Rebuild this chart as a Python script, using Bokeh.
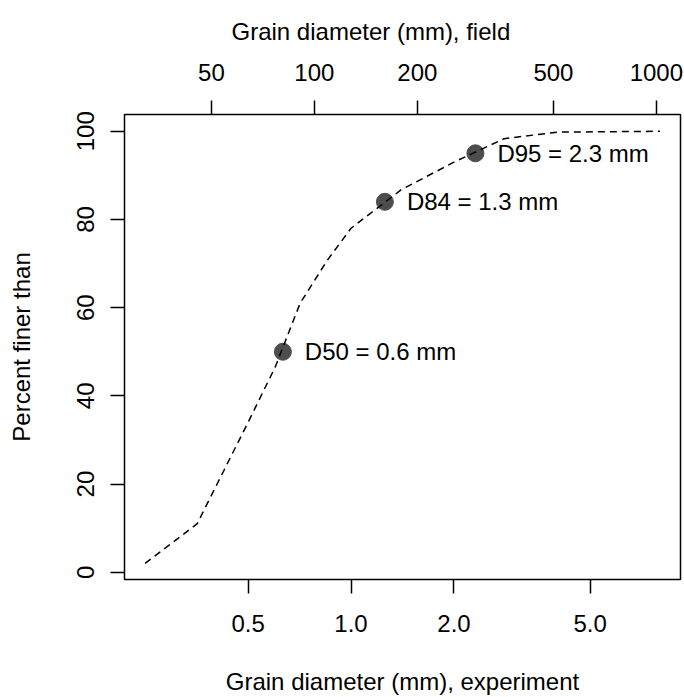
from bokeh.plotting import figure
from bokeh.models import Range1d, LogScale, LogAxis, FixedTicker, PrintfTickFormatter
from bokeh.embed import file_html
from bokeh.resources import INLINE

# ---- data ----
size_mm = [0.25, 0.355, 0.5, 0.6, 0.71, 0.85, 1.0, 1.4, 2.0, 2.8, 4.0, 8.0]
pct_finer = [2, 11, 34, 46.5, 61, 70.6, 78, 86.7, 93, 98.3, 99.8, 100]

d_names = ["D50", "D84", "D95"]
d_values = [0.632, 1.256, 2.31]
d_pct = [50, 84, 95]
d_labels = [f"{n} = {v:.1f} mm" for n, v in zip(d_names, d_values)]

field_factor = 128  # field diameter = experiment diameter * factor
bottom_ticks = [0.5, 1, 2, 5]
top_ticks = [50, 100, 200, 500, 1000]
y_ticks = [0, 20, 40, 60, 80, 100]

x_lo, x_hi = 0.2176, 9.19
y_lo, y_hi = -1.65, 103.8

FONT = "Liberation Sans"
FS = "24px"

p = figure(width=684, height=697, x_axis_type="log",
           x_range=Range1d(x_lo, x_hi), y_range=Range1d(y_lo, y_hi),
           output_backend="svg", toolbar_location=None,
           min_border_left=124, min_border_right=4,
           min_border_top=114, min_border_bottom=117)
p.grid.visible = False
p.outline_line_color = "black"
p.outline_line_width = 1.5
p.background_fill_color = "white"
p.border_fill_color = "white"


def style_axis(ax, standoff):
    ax.axis_line_color = None
    ax.major_tick_in = 0
    ax.major_tick_out = 14
    ax.major_tick_line_color = "black"
    ax.major_tick_line_width = 1.5
    ax.minor_tick_line_color = None
    ax.major_label_text_font = FONT
    ax.major_label_text_font_size = FS
    ax.major_label_text_color = "black"
    ax.major_label_standoff = standoff
    ax.axis_label_text_font = FONT
    ax.axis_label_text_font_size = FS
    ax.axis_label_text_font_style = "normal"
    ax.axis_label_text_color = "black"


xb = p.below[0]
style_axis(xb, 21)
xb.ticker = FixedTicker(ticks=bottom_ticks)
xb.formatter = PrintfTickFormatter(format="%.1f")
xb.axis_label = "Grain diameter (mm), experiment"
xb.axis_label_standoff = 33

yl = p.left[0]
style_axis(yl, 16)
yl.ticker = FixedTicker(ticks=y_ticks)
yl.major_label_orientation = "vertical"
yl.axis_label = "Percent finer than"
yl.axis_label_standoff = 40

p.extra_x_ranges = {"field": Range1d(x_lo * field_factor, x_hi * field_factor)}
p.extra_x_scales = {"field": LogScale()}
top = LogAxis(x_range_name="field")
style_axis(top, 20)
top.ticker = FixedTicker(ticks=top_ticks)
top.formatter = PrintfTickFormatter(format="%d")
p.add_layout(top, "above")

p.title.text = "Grain diameter (mm), field"
p.title.align = "left"
p.title.offset = 107
p.title.standoff = 31
p.title.text_font = FONT
p.title.text_font_size = FS
p.title.text_font_style = "normal"
p.title.text_color = "black"

p.scatter(d_values, d_pct, size=17, color="#4D4D4D")
p.line(size_mm, pct_finer, line_color="black", line_width=1.5, line_dash="7 5")
p.text(d_values, d_pct, text=d_labels, x_offset=22, text_align="left",
       text_baseline="middle", text_font_size=FS, text_color="black",
       text_font={"value": FONT})

open("out.html", "w").write(file_html(p, INLINE))
